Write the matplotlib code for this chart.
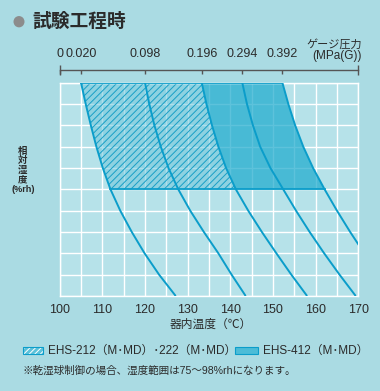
import matplotlib
matplotlib.use('Agg')
import matplotlib.pyplot as plt
from matplotlib.patches import Rectangle, Circle, Polygon

plt.rcParams['font.family'] = ['Liberation Sans', 'Noto Sans CJK JP']
plt.rcParams['hatch.linewidth'] = 0.7

# ---------------- data ----------------
rh = [100, 95, 90, 85, 80, 75, 70, 65, 60, 55, 50]           # relative humidity %rh
t_p0020 = [105.0, 106.1, 107.3, 108.6, 110.1, 111.9, 114.2, 116.9, 119.9, 123.3, 127.2]
t_p0098 = [120.0, 121.0, 122.2, 123.7, 125.5, 127.8, 130.6, 133.8, 137.2, 140.3, 143.6]
t_p0196 = [133.3, 134.4, 135.7, 137.2, 139.0, 141.3, 144.2, 147.4, 150.8, 154.3, 158.0]
t_p0294 = [142.8, 143.9, 145.3, 147.0, 149.4, 152.4, 155.4, 158.6, 162.0, 165.6, 169.4]
t_p0392 = [152.2, 153.6, 155.2, 157.1, 159.4, 162.1, 165.0, 168.1, 171.4, 174.9, 178.6]
curves = [t_p0020, t_p0098, t_p0196, t_p0294, t_p0392]

pressure_labels = ['0', '0.020', '0.098', '0.196', '0.294', '0.392']
pressure_zero_temp = 100.0
rh_low = 75  # lower limit of operating range

x_ticks = [100, 110, 120, 130, 140, 150, 160, 170]
y_ticks = [50, 60, 70, 80, 90, 100]

# ---------------- style ----------------
BG = '#aadbe3'
PLOT_BG = '#b6e2e9'
LINE = '#0b9dca'
SOLID = '#1eabce'
HATCH_FACE = '#6cc6dc'
HATCH_LINE = '#1a9fc6'
TEXT = '#2b2b2b'

W, H = 380, 391
fig = plt.figure(figsize=(W / 100, H / 100), dpi=100)
fig.patch.set_facecolor(BG)

def fx(px):
    return px / W

def fy(py):
    return (H - py) / H

ax = fig.add_axes([fx(59.7), fy(296), fx(358.3) - fx(59.7), fy(82.7) - fy(296)])
ax.set_facecolor(PLOT_BG)
ax.set_xlim(100, 170)
ax.set_ylim(50, 100)
ax.set_xticks(x_ticks)
ax.set_yticks(y_ticks)
ax.set_xticks(range(100, 171, 5), minor=True)
ax.set_yticks(range(50, 101, 5), minor=True)
ax.tick_params(which='both', length=0, colors=TEXT, labelsize=9)
ax.tick_params(axis='x', pad=5.5)
ax.tick_params(axis='y', pad=4.5)
ax.grid(which='both', color='white', lw=1.0)
ax.set_axisbelow(True)
for s in ax.spines.values():
    s.set_color('white')
    s.set_linewidth(1.0)

# filled operating ranges
n = rh.index(rh_low) + 1
hatch_poly = [(t, r) for t, r in zip(t_p0020[:n], rh[:n])] + \
             [(t, r) for t, r in zip(t_p0196[:n][::-1], rh[:n][::-1])]
solid_poly = [(t, r) for t, r in zip(t_p0196[:n], rh[:n])] + \
             [(t, r) for t, r in zip(t_p0392[:n][::-1], rh[:n][::-1])]
ax.add_patch(Polygon(solid_poly, closed=True, facecolor=SOLID, edgecolor='none',
                     alpha=0.72, zorder=2))
ax.add_patch(Polygon(hatch_poly, closed=True, facecolor=HATCH_FACE, edgecolor='none',
                     alpha=0.55, zorder=2))
ax.add_patch(Polygon(hatch_poly, closed=True, facecolor='none', edgecolor=HATCH_LINE,
                     lw=0, hatch='/////', zorder=2.5))

# range outline (top and bottom)
ax.plot([t_p0020[0], t_p0392[0]], [rh[0], rh[0]], color=LINE, lw=1.3, zorder=3)
ax.plot([t_p0020[n - 1], t_p0392[n - 1]], [rh_low, rh_low], color=LINE, lw=1.3, zorder=3)

# saturation curves
for c in curves:
    ax.plot(c, rh, color=LINE, lw=1.4, zorder=3, solid_capstyle='butt')

# top pressure axis
ax2 = ax.twiny()
ax2.set_xlim(ax.get_xlim())
top_pos = [pressure_zero_temp] + [c[0] for c in curves]
ax2.set_xticks(top_pos)
ax2.set_xticklabels(pressure_labels)
ax2.set_xticks([100, 170], minor=True)
ax2.xaxis.remove_overlapping_locs = False
for k in ['left', 'right', 'bottom']:
    ax2.spines[k].set_visible(False)
ax2.spines['top'].set_position(('outward', 9.5))
ax2.spines['top'].set_color('#555555')
ax2.spines['top'].set_linewidth(1.0)
ax2.tick_params(axis='x', which='major', direction='in', length=3, width=1,
                colors='#555555', labelcolor=TEXT, labelsize=9, pad=7)
ax2.tick_params(axis='x', which='minor', direction='inout', length=7, width=1,
                colors='#555555')
ax2.set_yticks([])
ax2.patch.set_visible(False)

fig.text(fx(362), fy(44), 'ゲージ圧力', ha='right', va='center', fontsize=8, color=TEXT)
fig.text(fx(362), fy(56), '(MPa(G))', ha='right', va='center', fontsize=8.5, color=TEXT)

# title
fig.patches.append(Circle((fx(19), fy(21.7)), 5.5 / W, transform=fig.transFigure,
                          facecolor='#8c8c8c', edgecolor='none'))
fig.text(fx(32), fy(22), '試験工程時', ha='left', va='center', fontsize=13.5,
         fontweight='bold', color=TEXT)

# y label (stacked)
for ch, py in zip(['相', '対', '湿', '度'], [151.5, 161, 170.5, 180]):
    fig.text(fx(23), fy(py), ch, ha='center', va='center', fontsize=6.8,
             fontweight='bold', color=TEXT)
fig.text(fx(23), fy(190), '(%rh)', ha='center', va='center', fontsize=6.5,
         fontweight='bold', color=TEXT)

# x label
fig.text(fx(211), fy(325), '器内温度（℃）', ha='center', va='center', fontsize=8.5,
         color=TEXT)

# legend
fig.patches.append(Rectangle((fx(23), fy(354)), 20 / W, 7 / H, transform=fig.transFigure,
                             facecolor='#5cc2da', edgecolor='white', lw=0, hatch='//////'))
fig.patches.append(Rectangle((fx(23), fy(354)), 20 / W, 7 / H, transform=fig.transFigure,
                             facecolor='none', edgecolor=LINE, lw=0.8))
fig.text(fx(48), fy(350.5), 'EHS-212（M･MD）･222（M･MD）', ha='left', va='center',
         fontsize=8.5, color=TEXT)
fig.patches.append(Rectangle((fx(235), fy(354)), 23 / W, 7 / H, transform=fig.transFigure,
                             facecolor='#4cbcd7', edgecolor=LINE, lw=0.8))
fig.text(fx(263), fy(350.5), 'EHS-412（M･MD）', ha='left', va='center',
         fontsize=8.5, color=TEXT)

fig.text(fx(23), fy(371), '※乾湿球制御の場合、湿度範囲は75～98%rhになります。', ha='left',
         va='center', fontsize=7.6, color=TEXT)

fig.savefig('out.png', dpi=100, facecolor=BG)
